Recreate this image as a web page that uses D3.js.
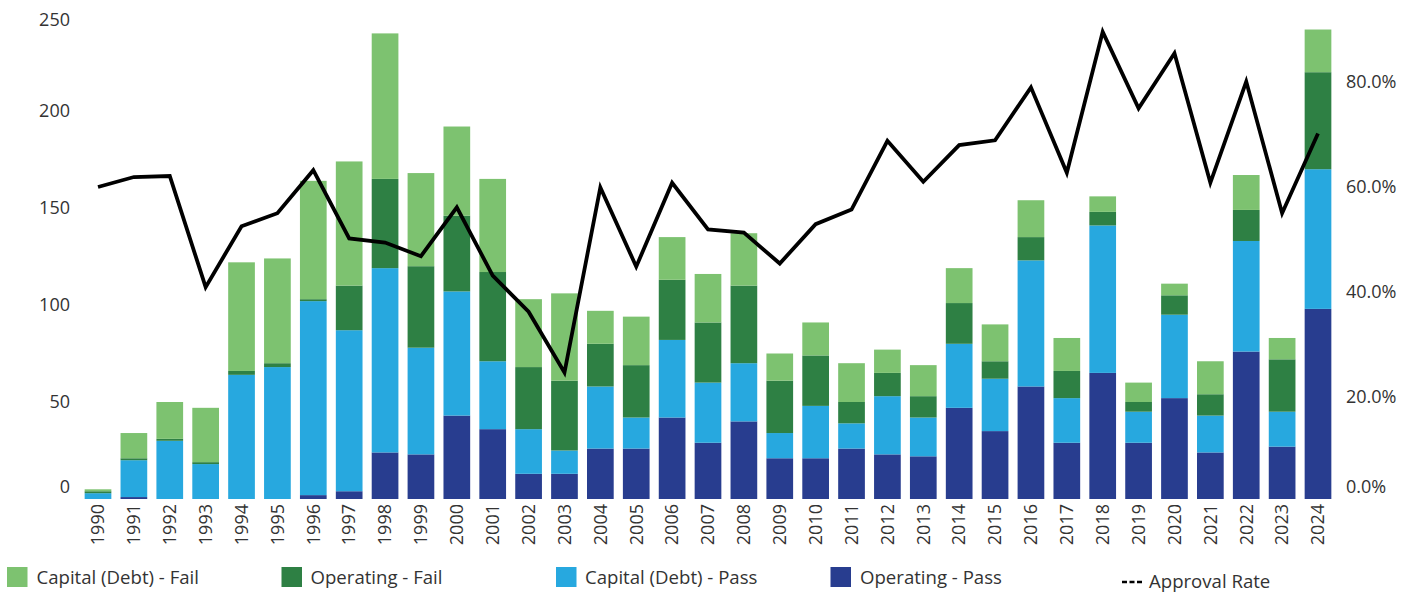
<!DOCTYPE html>
<html>
<head>
<meta charset="utf-8">
<script src="https://cdn.jsdelivr.net/npm/d3@7"></script>
<style>
  html, body { margin: 0; padding: 0; background: #fff; }
  svg text { font-family: "Open Sans", sans-serif; fill: #333; }
</style>
</head>
<body>
<svg id="chart" width="1417" height="592"></svg>
<script>
const years = ["1990","1991","1992","1993","1994","1995","1996","1997","1998","1999","2000","2001","2002","2003","2004","2005","2006","2007","2008","2009","2010","2011","2012","2013","2014","2015","2016","2017","2018","2019","2020","2021","2022","2023","2024"];
const operatingPass = [0,1,0,0,0,0,2,4,24,23,43,36,13,13,26,26,42,29,40,21,21,26,23,22,47,35,58,29,65,29,52,24,76,27,98];
const capitalPass   = [3,19,30,18,64,68,100,83,95,55,64,35,23,12,32,16,40,31,30,13,27,13,30,20,33,27,65,23,76,16,43,19,57,18,72];
const operatingFail = [1,1,1,1,2,2,1,23,46,42,39,46,32,36,22,27,31,31,40,27,26,11,12,11,21,9,12,14,7,5,10,11,16,27,50];
const capitalFail   = [1,13,19,28,56,54,61,64,75,48,46,48,35,45,17,25,22,25,27,14,17,20,12,16,18,19,19,17,8,10,6,17,18,11,22];
const approvalRate  = [60.0,61.9,62.1,40.9,52.5,55.0,63.2,50.2,49.4,46.8,56.1,43.1,36.2,24.6,59.9,44.8,60.8,51.9,51.3,45.4,52.9,55.7,68.8,61.0,68.0,68.9,79.0,62.7,89.6,75.0,85.5,60.8,80.1,55.0,70.2];
const leftTicks  = [0,50,100,150,200,250];
const rightTicks = [0,20,40,60,80];
const seriesNames = ["Operating - Pass","Capital (Debt) - Pass","Operating - Fail","Capital (Debt) - Fail"];
const seriesColors = ["#283d8f","#27a8df","#2e8044","#7dc270"];

const svg = d3.select("#chart");
const rows = years.map((y,i)=>({year:y,
  "Operating - Pass":operatingPass[i],
  "Capital (Debt) - Pass":capitalPass[i],
  "Operating - Fail":operatingFail[i],
  "Capital (Debt) - Fail":capitalFail[i]}));

const x = d3.scaleBand().domain(years).range([80.06,1335.94]).paddingInner(0.256).paddingOuter(0.128);
const y = d3.scaleLinear().domain([0,250]).range([499,14]);
const yR = d3.scaleLinear().domain([0,93]).range([501.5,14]);
const color = d3.scaleOrdinal().domain(seriesNames).range(seriesColors);

const stack = d3.stack().keys(seriesNames)(rows);
svg.append("g").selectAll("g").data(stack).join("g")
  .attr("fill", d=>color(d.key))
  .selectAll("rect").data(d=>d).join("rect")
  .attr("x", d=>x(d.data.year))
  .attr("width", x.bandwidth())
  .attr("y", d=>y(d[1]))
  .attr("height", d=>y(d[0])-y(d[1]));

// line
const line = d3.line().x((d,i)=>x(years[i])+x.bandwidth()/2).y(d=>yR(d));
svg.append("path").datum(approvalRate)
  .attr("d", line).attr("fill","none").attr("stroke","#000")
  .attr("stroke-width",3.8).attr("stroke-linejoin","miter");

// left axis
const la = svg.append("g").attr("transform","translate(70,0)")
  .call(d3.axisLeft(y).tickValues(leftTicks).tickSize(0).tickPadding(0));
la.select(".domain").remove();
la.selectAll("text").style("font-size","18px").attr("fill","#333")
  .attr("dy", d=> d===0 ? "-0.35em" : (d===250 ? "0.65em" : "0.32em"));

// right axis
const ra = svg.append("g").attr("transform","translate(1346,0)")
  .call(d3.axisRight(yR).tickValues(rightTicks).tickSize(0).tickPadding(0).tickFormat(d=>d3.format(".1f")(d)+"%"));
ra.select(".domain").remove();
ra.selectAll("text").style("font-size","18px").attr("fill","#333")
  .attr("dy", d=> d===0 ? "-0.5em" : "0.32em");

// x axis
const xa = svg.append("g").attr("transform","translate(0,504)")
  .call(d3.axisBottom(x).tickSize(0).tickPadding(0));
xa.select(".domain").remove();
xa.selectAll("text").style("font-size","18px").attr("fill","#333")
  .attr("transform","rotate(-90)").attr("text-anchor","end")
  .attr("x",0).attr("y",0).attr("dx",0).attr("dy","0.35em");

// legend
const legendItems = [
  {name:"Capital (Debt) - Fail", sx:7, tx:36.5},
  {name:"Operating - Fail", sx:281.5, tx:310.5},
  {name:"Capital (Debt) - Pass", sx:556, tx:585},
  {name:"Operating - Pass", sx:830.5, tx:860}
];
const lg = svg.append("g");
legendItems.forEach(it=>{
  lg.append("rect").attr("x",it.sx).attr("y",567).attr("width",20.5).attr("height",20).attr("fill",color(it.name));
  lg.append("text").attr("x",it.tx).attr("y",584).style("font-size","18.6px").text(it.name);
});
lg.append("line").attr("x1",1122).attr("x2",1143).attr("y1",582).attr("y2",582)
  .attr("stroke","#000").attr("stroke-width",2.5).attr("stroke-dasharray","5,2.5");
lg.append("text").attr("x",1149).attr("y",588).style("font-size","18.6px").text("Approval Rate");
</script>
</body>
</html>
